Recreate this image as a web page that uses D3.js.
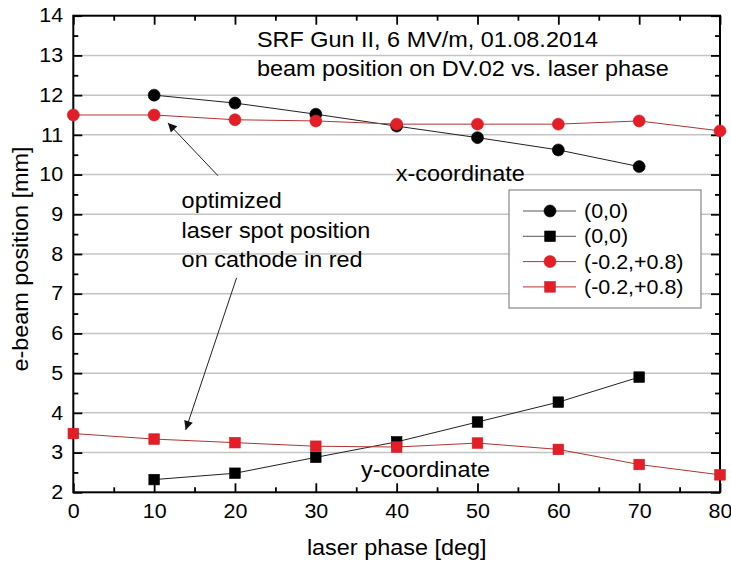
<!DOCTYPE html>
<html>
<head>
<meta charset="utf-8">
<script src="https://cdn.jsdelivr.net/npm/d3@7"></script>
<style>
  body { margin: 0; background: #fff; }
  svg { display: block; font-family: "Liberation Sans", Arial, sans-serif; }
</style>
</head>
<body>
<div id="chart"></div>
<script>
"use strict"
// data
const phaseFull = [0, 10, 20, 30, 40, 50, 60, 70, 80];
const phaseShort = [10, 20, 30, 40, 50, 60, 70];

const xBlack = [12.0, 11.8, 11.52, 11.22, 10.93, 10.62, 10.2];      // circles (0,0)
const yBlack = [2.32, 2.48, 2.88, 3.27, 3.77, 4.27, 4.9];           // squares (0,0)
const xRed = [11.5, 11.5, 11.38, 11.35, 11.27, 11.27, 11.27, 11.35, 11.1]; // circles (-0.2,+0.8)
const yRed = [3.48, 3.34, 3.25, 3.16, 3.14, 3.24, 3.08, 2.7, 2.44];       // squares (-0.2,+0.8)

const xTicks = [0, 10, 20, 30, 40, 50, 60, 70, 80];
const yTicks = [2, 3, 4, 5, 6, 7, 8, 9, 10, 11, 12, 13, 14];
const legendLabels = ["(0,0)", "(0,0)", "(-0.2,+0.8)", "(-0.2,+0.8)"];
const titleLines = ["SRF Gun II, 6 MV/m, 01.08.2014", "beam position on DV.02 vs. laser phase"];
const noteLines = ["optimized", "laser spot position", "on cathode in red"];

const RED = "#e41e26";
const RED_LINE = "#b03434";
const SX = 1.1; // the source font is a bit wider than Arial

const fullWidth = 731, fullHeight = 561;
const svg = d3.select("#chart").append("svg").attr("width", fullWidth).attr("height", fullHeight);

const xScale = d3.scaleLinear().domain([0, 80]).range([73.3, 720]);
const yScale = d3.scaleLinear().domain([2, 14]).range([492.3, 15.7]);

function addText(parent, x, y, str, size, anchor, rot) {
    return parent.append("text")
        .attr("transform", "translate(" + x + "," + y + ")" + (rot ? " rotate(" + rot + ")" : "") + " scale(" + SX + ",1)")
        .attr("font-size", size)
        .attr("text-anchor", anchor || "start")
        .attr("fill", "#000")
        .text(str);
}

// grid
svg.append("g").selectAll("line")
    .data(yTicks.filter(d => d > 2 && d < 14))
    .enter().append("line")
    .attr("x1", xScale(0)).attr("x2", xScale(80))
    .attr("y1", d => yScale(d)).attr("y2", d => yScale(d))
    .attr("stroke", "#c4c4c4").attr("stroke-width", 1.5);

// axes, ticks pointing inward
const minorX = d3.range(5, 80, 10);
const minorY = d3.range(2.5, 14, 1);

function styleAxis(g) {
    g.select(".domain").remove();
    g.selectAll(".tick line").attr("stroke", "#000").attr("stroke-width", 1.8);
}

const bottom = svg.append("g").attr("transform", "translate(0," + yScale(2) + ")")
    .call(d3.axisBottom(xScale).tickValues(xTicks).tickSize(-9).tickPadding(12));
bottom.call(styleAxis);
bottom.selectAll("text").attr("font-size", 19.5).attr("font-family", "Liberation Sans, Arial, sans-serif")
    .attr("fill", "#000").attr("transform", "scale(" + SX + ",1)");
svg.append("g").attr("transform", "translate(0," + yScale(2) + ")")
    .call(d3.axisBottom(xScale).tickValues(minorX).tickSize(-5).tickFormat("")).call(styleAxis);

svg.append("g").attr("transform", "translate(0," + yScale(14) + ")")
    .call(d3.axisTop(xScale).tickValues(xTicks).tickSize(-9).tickFormat("")).call(styleAxis);
svg.append("g").attr("transform", "translate(0," + yScale(14) + ")")
    .call(d3.axisTop(xScale).tickValues(minorX).tickSize(-5).tickFormat("")).call(styleAxis);

const left = svg.append("g").attr("transform", "translate(" + xScale(0) + ",0)")
    .call(d3.axisLeft(yScale).tickValues(yTicks).tickSize(-9).tickPadding(9.2));
left.call(styleAxis);
left.selectAll("text").attr("font-size", 19.5).attr("font-family", "Liberation Sans, Arial, sans-serif")
    .attr("fill", "#000").attr("transform", "scale(" + SX + ",1)");
svg.append("g").attr("transform", "translate(" + xScale(0) + ",0)")
    .call(d3.axisLeft(yScale).tickValues(minorY).tickSize(-5).tickFormat("")).call(styleAxis);

svg.append("g").attr("transform", "translate(" + xScale(80) + ",0)")
    .call(d3.axisRight(yScale).tickValues(yTicks).tickSize(-9).tickFormat("")).call(styleAxis);
svg.append("g").attr("transform", "translate(" + xScale(80) + ",0)")
    .call(d3.axisRight(yScale).tickValues(minorY).tickSize(-5).tickFormat("")).call(styleAxis);

// frame
svg.append("rect")
    .attr("x", xScale(0)).attr("y", yScale(14))
    .attr("width", xScale(80) - xScale(0)).attr("height", yScale(2) - yScale(14))
    .attr("fill", "none").attr("stroke", "#000").attr("stroke-width", 2);

// series
const series = [
    { xs: phaseShort, ys: xBlack, line: "#222", fill: "#000", shape: "circle" },
    { xs: phaseShort, ys: yBlack, line: "#222", fill: "#000", shape: "square" },
    { xs: phaseFull, ys: xRed, line: RED_LINE, fill: RED, shape: "circle" },
    { xs: phaseFull, ys: yRed, line: RED_LINE, fill: RED, shape: "square" }
];

const lineGen = d3.line().x(d => xScale(d[0])).y(d => yScale(d[1]));
const data = svg.append("g");

function drawMarker(g, shape, fill, cx, cy) {
    if (shape === "circle") {
        g.append("circle").attr("cx", cx).attr("cy", cy).attr("r", 6)
            .attr("fill", fill).attr("stroke", fill === RED ? "#d01c22" : "#000").attr("stroke-width", 0.6);
    } else {
        g.append("rect").attr("x", cx - 5.3).attr("y", cy - 5.3).attr("width", 10.6).attr("height", 10.6)
            .attr("fill", fill).attr("stroke", fill === RED ? "#d01c22" : "#000").attr("stroke-width", 0.6);
    }
}

series.forEach(function(s) {
    let pts = s.xs.map((x, i) => [x, s.ys[i]]);
    data.append("path").attr("d", lineGen(pts))
        .attr("fill", "none").attr("stroke", s.line).attr("stroke-width", 1);
});
series.forEach(function(s) {
    s.xs.forEach(function(x, i) {
        drawMarker(data, s.shape, s.fill, xScale(x), yScale(s.ys[i]));
    });
});

// titles and annotations
addText(svg, 257, 47, titleLines[0], 21.3);
addText(svg, 257, 76, titleLines[1], 21.3);
addText(svg, xScale(39.9), yScale(9.84), "x-coordinate", 21.3);
addText(svg, xScale(35.6), yScale(2.39), "y-coordinate", 21.3);
noteLines.forEach(function(t, i) {
    addText(svg, xScale(13.4), yScale(9.15) + i * 29.3, t, 21.3);
});

svg.append("defs").append("marker")
    .attr("id", "arrow").attr("viewBox", "0 0 10 10")
    .attr("refX", 10).attr("refY", 5)
    .attr("markerWidth", 14).attr("markerHeight", 9)
    .attr("markerUnits", "userSpaceOnUse")
    .attr("orient", "auto")
    .append("path").attr("d", "M0,0 L10,5 L0,10 Z").attr("fill", "#111");

const arrows = [
    [[17.9, 9.97], [11.7, 11.3]],
    [[20.2, 7.40], [13.9, 3.57]]
];
svg.append("g").selectAll("line").data(arrows).enter().append("line")
    .attr("x1", d => xScale(d[0][0])).attr("y1", d => yScale(d[0][1]))
    .attr("x2", d => xScale(d[1][0])).attr("y2", d => yScale(d[1][1]))
    .attr("stroke", "#222").attr("stroke-width", 1)
    .attr("marker-end", "url(#arrow)");

// axis titles
addText(svg, 396.7, 555, "laser phase [deg]", 21.3, "middle");
addText(svg, 28, 259, "e-beam position [mm]", 21.3, "middle", -90);

// legend
const legend = svg.append("g").attr("transform", "translate(509,190)");
legend.append("rect").attr("width", 192).attr("height", 118)
    .attr("fill", "#fff").attr("stroke", "#888").attr("stroke-width", 1.2);
series.forEach(function(s, i) {
    let y = 21 + i * 25.3;
    legend.append("line").attr("x1", 14).attr("x2", 67).attr("y1", y).attr("y2", y)
        .attr("stroke", s.fill === RED ? RED_LINE : "#555").attr("stroke-width", 1);
    drawMarker(legend, s.shape, s.fill, 41, y);
    addText(legend, 75, y + 7, legendLabels[i], 19.5);
});
</script>
</body>
</html>
